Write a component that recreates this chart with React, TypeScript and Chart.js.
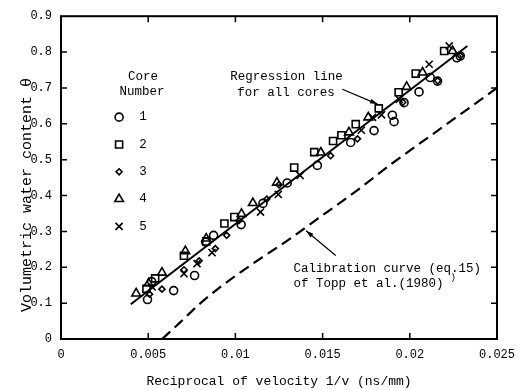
import React, { useEffect, useRef } from 'react';
import { Chart, registerables } from 'chart.js';

Chart.register(...registerables);

const xTickLabels = ['0', '0.005', '0.01', '0.015', '0.02', '0.025'];
const yTickLabels = ['0', '0.1', '0.2', '0.3', '0.4', '0.5', '0.6', '0.7', '0.8', '0.9'];
const coreNumbers = ['1', '2', '3', '4', '5'];

const core1X = [0.00496, 0.0052, 0.00646, 0.00766, 0.0083, 0.00875, 0.01033, 0.01158, 0.01297, 0.0147, 0.01661, 0.01795, 0.0191, 0.019, 0.01967, 0.02053, 0.02117, 0.02159, 0.0227, 0.02289];
const core1Y = [0.110, 0.16, 0.135, 0.177, 0.27, 0.289, 0.319, 0.378, 0.435, 0.484, 0.548, 0.581, 0.606, 0.624, 0.659, 0.689, 0.729, 0.719, 0.784, 0.789];

const core2X = [0.0049, 0.0054, 0.00705, 0.00833, 0.00937, 0.00994, 0.01337, 0.01452, 0.0156, 0.01608, 0.0169, 0.01822, 0.01936, 0.02034, 0.02197];
const core2Y = [0.14, 0.169, 0.232, 0.272, 0.322, 0.34, 0.478, 0.521, 0.552, 0.568, 0.599, 0.643, 0.688, 0.74, 0.803];

const core3X = [0.00508, 0.00579, 0.00705, 0.00792, 0.00885, 0.0095, 0.0102, 0.0118, 0.0125, 0.01546, 0.017, 0.0196, 0.0216, 0.0229];
const core3Y = [0.125, 0.139, 0.193, 0.218, 0.252, 0.289, 0.33, 0.39, 0.43, 0.511, 0.558, 0.66, 0.72, 0.79];

const core4X = [0.00431, 0.00502, 0.00579, 0.00713, 0.00833, 0.01035, 0.011, 0.01238, 0.0149, 0.01651, 0.01762, 0.01982, 0.02073, 0.02245];
const core4Y = [0.127, 0.155, 0.185, 0.245, 0.28, 0.349, 0.379, 0.436, 0.52, 0.576, 0.618, 0.703, 0.743, 0.803];

const core5X = [0.00523, 0.00705, 0.0078, 0.00866, 0.01144, 0.01246, 0.01371, 0.01722, 0.01786, 0.01838, 0.0194, 0.02111, 0.02226];
const core5Y = [0.145, 0.182, 0.21, 0.241, 0.354, 0.403, 0.456, 0.582, 0.618, 0.625, 0.668, 0.766, 0.817];

const regressionX = [0.004, 0.0233];
const regressionY = [0.097, 0.817];

const toppX = [0.0058, 0.0068, 0.008, 0.009, 0.011, 0.013, 0.015, 0.017, 0.019, 0.021, 0.023, 0.025];
const toppY = [0, 0.045, 0.1, 0.14, 0.21, 0.275, 0.345, 0.415, 0.49, 0.56, 0.63, 0.7];

const FONT = '"Liberation Mono", "DejaVu Sans Mono", monospace';

const zip = (xs: number[], ys: number[]) => xs.map((x, i) => ({ x, y: ys[i] }));

const markerStyles = ['circle', 'rect', 'rectRot', 'triangle', 'crossRot'];
const markerRadii = [4, 5, 3, 5, 5];

function drawMarker(ctx: CanvasRenderingContext2D, style: string, x: number, y: number, r: number) {
  ctx.beginPath();
  if (style === 'circle') {
    ctx.arc(x, y, r, 0, Math.PI * 2);
  } else if (style === 'rect') {
    const s = Math.SQRT1_2 * r;
    ctx.rect(x - s, y - s, 2 * s, 2 * s);
  } else if (style === 'rectRot') {
    ctx.moveTo(x, y - r);
    ctx.lineTo(x + r, y);
    ctx.lineTo(x, y + r);
    ctx.lineTo(x - r, y);
    ctx.closePath();
  } else if (style === 'triangle') {
    let rad = 0;
    ctx.moveTo(x + Math.sin(rad) * r, y - Math.cos(rad) * r);
    rad += (2 * Math.PI) / 3;
    ctx.lineTo(x + Math.sin(rad) * r, y - Math.cos(rad) * r);
    rad += (2 * Math.PI) / 3;
    ctx.lineTo(x + Math.sin(rad) * r, y - Math.cos(rad) * r);
    ctx.closePath();
  } else if (style === 'crossRot') {
    const o = Math.SQRT1_2 * r;
    ctx.moveTo(x - o, y - o);
    ctx.lineTo(x + o, y + o);
    ctx.moveTo(x - o, y + o);
    ctx.lineTo(x + o, y - o);
  }
  ctx.stroke();
}

function arrow(ctx: CanvasRenderingContext2D, x1: number, y1: number, x2: number, y2: number) {
  ctx.beginPath();
  ctx.moveTo(x1, y1);
  ctx.lineTo(x2, y2);
  ctx.stroke();
  const a = Math.atan2(y2 - y1, x2 - x1);
  const L = 8;
  const w = 0.3;
  ctx.beginPath();
  ctx.moveTo(x2, y2);
  ctx.lineTo(x2 - L * Math.cos(a - w), y2 - L * Math.sin(a - w));
  ctx.lineTo(x2 - L * Math.cos(a + w), y2 - L * Math.sin(a + w));
  ctx.closePath();
  ctx.fill();
}

const framePlugin = {
  id: 'frameAndExtras',
  afterDraw(chart: any) {
    const { ctx, chartArea: a, scales } = chart;
    const xs = scales.x;
    const ys = scales.y;
    ctx.save();
    ctx.strokeStyle = '#000';
    ctx.fillStyle = '#000';
    ctx.lineWidth = 2;
    ctx.strokeRect(a.left, a.top, a.right - a.left, a.bottom - a.top);
    ctx.lineWidth = 1.5;
    const tl = 6;
    xs.ticks.forEach((t: any, i: number) => {
      if (i === 0 || i === xs.ticks.length - 1) return;
      const px = xs.getPixelForValue(t.value);
      ctx.beginPath();
      ctx.moveTo(px, a.bottom);
      ctx.lineTo(px, a.bottom - tl);
      ctx.moveTo(px, a.top);
      ctx.lineTo(px, a.top + tl);
      ctx.stroke();
    });
    ys.ticks.forEach((t: any, i: number) => {
      if (i === 0 || i === ys.ticks.length - 1) return;
      const py = ys.getPixelForValue(t.value);
      ctx.beginPath();
      ctx.moveTo(a.left, py);
      ctx.lineTo(a.left + tl, py);
      ctx.moveTo(a.right, py);
      ctx.lineTo(a.right - tl, py);
      ctx.stroke();
    });

    // Legend
    ctx.font = `12.5px ${FONT}`;
    ctx.textAlign = 'center';
    ctx.textBaseline = 'middle';
    const lx = xs.getPixelForValue(0.00465);
    const ly0 = ys.getPixelForValue(0.73);
    ctx.fillText('Core', lx + 1, ly0);
    ctx.fillText('Number', lx, ly0 + 15);
    ctx.lineWidth = 1.6;
    coreNumbers.forEach((n, i) => {
      const y = ly0 + 40 + i * 27.3;
      drawMarker(ctx, markerStyles[i], lx - 23, y, markerRadii[i]);
      ctx.fillText(n, lx + 1, y);
    });

    // Regression annotation
    ctx.textAlign = 'left';
    const rx = xs.getPixelForValue(0.00971);
    const ry = ys.getPixelForValue(0.7306);
    ctx.fillText('Regression line', rx, ry);
    ctx.fillText('for all cores', rx + 7, ry + 16);
    ctx.lineWidth = 1.2;
    arrow(ctx, xs.getPixelForValue(0.01613), ys.getPixelForValue(0.6964), xs.getPixelForValue(0.01815), ys.getPixelForValue(0.655));

    // Calibration annotation
    const cx = xs.getPixelForValue(0.01333);
    const cy = ys.getPixelForValue(0.197);
    ctx.fillText('Calibration curve (eq.15)', cx, cy);
    ctx.fillText('of Topp et al.(1980)', cx, cy + 15);
    ctx.font = `9px ${FONT}`;
    ctx.fillText(')', cx + 157, cy + 9);
    arrow(ctx, xs.getPixelForValue(0.01575), ys.getPixelForValue(0.233), xs.getPixelForValue(0.01405), ys.getPixelForValue(0.302));
    ctx.restore();
  },
};

export default function App() {
  const ref = useRef<HTMLCanvasElement | null>(null);
  useEffect(() => {
    document.body.style.margin = '0';
    const canvas = ref.current;
    if (!canvas) return;
    const pt = (i: number, xs: number[], ys: number[]) => ({
      label: coreNumbers[i],
      data: zip(xs, ys),
      showLine: false,
      pointStyle: markerStyles[i] as any,
      pointRadius: markerRadii[i],
      pointBorderWidth: 1.6,
      pointBorderColor: '#000',
      pointBackgroundColor: 'rgba(0,0,0,0)',
    });
    const chart = new Chart(canvas, {
      type: 'scatter',
      data: {
        datasets: [
          {
            label: 'Regression line',
            data: zip(regressionX, regressionY),
            showLine: true,
            borderColor: '#000',
            borderWidth: 2,
            pointRadius: 0,
          },
          {
            label: 'Topp',
            data: zip(toppX, toppY),
            showLine: true,
            borderColor: '#000',
            borderWidth: 2.2,
            borderDash: [11, 6],
            cubicInterpolationMode: 'monotone',
            pointRadius: 0,
          } as any,
          pt(0, core1X, core1Y),
          pt(1, core2X, core2Y),
          pt(2, core3X, core3Y),
          pt(3, core4X, core4Y),
          pt(4, core5X, core5Y),
        ],
      },
      options: {
        animation: false,
        responsive: false,
        layout: { padding: { left: 0, right: 28, top: 15, bottom: 0 } },
        plugins: { legend: { display: false }, tooltip: { enabled: false } },
        scales: {
          x: {
            type: 'linear',
            min: 0,
            max: 0.025,
            grid: { display: false, drawTicks: false },
            border: { display: false },
            ticks: {
              stepSize: 0.005,
              padding: 9,
              color: '#000',
              font: { family: FONT, size: 12 },
              maxRotation: 0,
              callback: (_v: any, i: number) => xTickLabels[i],
            },
            title: {
              display: true,
              text: 'Reciprocal of velocity 1/v (ns/mm)',
              color: '#000',
              font: { family: FONT, size: 13 },
              padding: { top: 0, bottom: 1 },
            },
            afterFit: (s: any) => {
              s.height = 51;
            },
          },
          y: {
            type: 'linear',
            min: 0,
            max: 0.9,
            grid: { display: false, drawTicks: false },
            border: { display: false },
            ticks: {
              stepSize: 0.1,
              padding: 9,
              color: '#000',
              font: { family: FONT, size: 12 },
              callback: (_v: any, i: number) => yTickLabels[i],
            },
            title: {
              display: true,
              text: '   Volumetric water content θ',
              align: 'start',
              color: '#000',
              font: { family: FONT, size: 15 },
              padding: { top: 18, bottom: 0 },
            },
            afterFit: (s: any) => {
              s.width = 61;
            },
          },
        },
      },
      plugins: [framePlugin],
    });
    return () => chart.destroy();
  }, []);
  return (
    <div style={{ width: 525, height: 390 }}>
      <canvas ref={ref} width={525} height={390} style={{ display: 'block' }} />
    </div>
  );
}
